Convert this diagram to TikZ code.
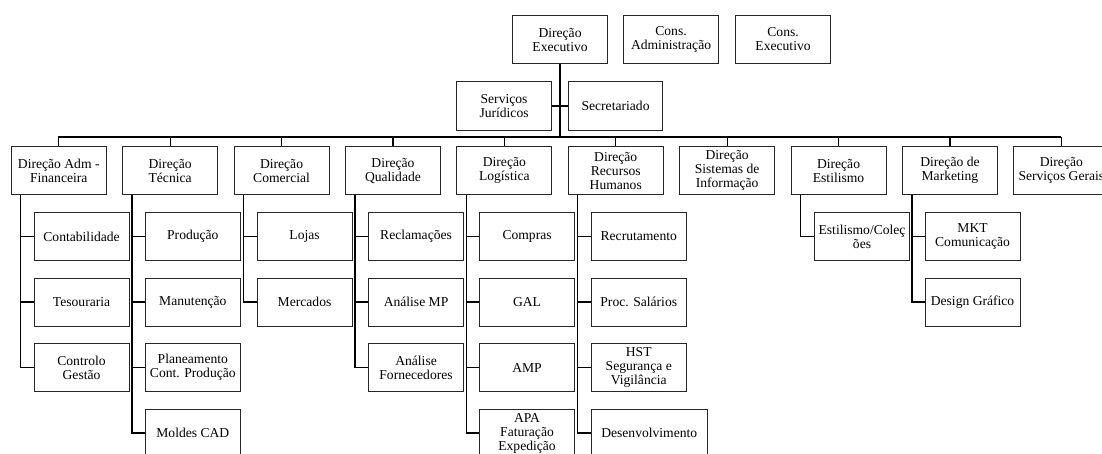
\documentclass[tikz,border=0pt]{standalone}
\usepackage{fontspec}
\setmainfont{Liberation Serif}
\usetikzlibrary{calc}
\begin{document}
\begin{tikzpicture}[x=1pt,y=-1pt,
  box/.style={draw=black!85,line width=1.1pt,fill=white,minimum width=95pt,minimum height=48pt,
    inner sep=1pt,align=center,anchor=north west,font=\fontsize{13.6}{14}\selectfont},
  link/.style={line width=1.5pt,black},
  trunk/.style={line width=2.6pt,black},
  thin/.style={line width=1.2pt,black}]
\useasboundingbox (0,0) rectangle (1102,454);
\clip (0,0) rectangle (1102,454);
% top
\node[box] (exec) at (512,15) {Direção\\Executivo};
\node[box] (cadm) at (623,15) {Cons.\\Administração};
\node[box] (cexe) at (735,15) {Cons.\\Executivo};
\node[box,minimum height=49pt] (sj) at (456,81) {Serviços\\Jurídicos};
\node[box,minimum height=49pt,minimum width=94pt] (sec) at (568,81) {Secretariado};
\coordinate (busL) at (58,137);
\coordinate (busR) at (1061,137);
\draw[link] (sj.east) -- (sec.west);
\draw[link] (busL) -- (busR);
\draw[trunk] (exec.south) -- (exec.south |- busL);
% departments
\node[box] (d1) at (10.7,146) {Direção Adm -\\Financeira};
\node[box] (d2) at (122.1,146) {Direção\\Técnica};
\node[box] (d3) at (233.5,146) {Direção\\Comercial};
\node[box] (d4) at (344.9,146) {Direção\\Qualidade};
\node[box] (d5) at (456.3,146) {Direção\\Logística};
\node[box] (d6) at (567.7,146) {Direção\\Recursos\\Humanos};
\node[box] (d7) at (679.1,146) {Direção\\Sistemas de\\Informação};
\node[box] (d8) at (790.5,146) {Direção\\Estilismo};
\node[box] (d9) at (901.9,146) {Direção de\\Marketing};
\node[box] (d10) at (1013.3,146) {Direção\\Serviços Gerais};
\foreach \d in {d1,d2,d3,d4,d5,d6,d7,d8,d9,d10}
  \draw[thin] (\d.north) -- (\d.north |- busL);
% sub boxes
\node[box] (c11) at (33.5,212) {Contabilidade};
\node[box] (c12) at (33.5,277.5) {Tesouraria};
\node[box] (c13) at (33.5,343) {Controlo\\Gestão};
\node[box] (c21) at (144.8,212) {Produção};
\node[box] (c22) at (144.8,277.5) {Manutenção};
\node[box] (c23) at (144.8,343) {Planeamento\\Cont. Produção};
\node[box] (c24) at (144.8,408.5) {Moldes CAD};
\node[box] (c31) at (256.5,212) {Lojas};
\node[box] (c32) at (256.5,277.5) {Mercados};
\node[box] (c41) at (368,212) {Reclamações};
\node[box] (c42) at (368,277.5) {Análise MP};
\node[box] (c43) at (368,343) {Análise\\Fornecedores};
\node[box] (c51) at (479,212) {Compras};
\node[box] (c52) at (479,277.5) {GAL};
\node[box] (c53) at (479,343) {AMP};
\node[box] (c54) at (479,408.5) {APA\\Faturação\\Expedição};
\node[box] (c61) at (590.7,212) {Recrutamento};
\node[box] (c62) at (590.7,277.5) {Proc. Salários};
\node[box] (c63) at (590.7,343) {HST\\Segurança e\\Vigilância};
\node[box,minimum width=116pt] (c64) at (590.7,408.5) {Desenvolvimento};
\node[box] (c81) at (814,212) {Estilismo/Coleç\\ões};
\node[box] (c91) at (924.5,212) {MKT\\Comunicação};
\node[box] (c92) at (924.5,277.5) {Design Gráfico};
% column connectors
\foreach \d/\last/\others in {d1/c13/{c11,c12}, d2/c24/{c21,c22,c23}, d3/c32/{c31},
    d4/c43/{c41,c42}, d5/c54/{c51,c52,c53}, d6/c64/{c61,c62,c63}, d9/c92/{c91}} {
  \coordinate (v) at ($(\d.south west)+(10,0)$);
  \draw[link,line join=miter] (v) |- (\last.west);
  \foreach \c in \others
    \draw[link] (\c.west) -- (\c.west -| v);
}
\coordinate (v8) at ($(d8.south west)+(10,0)$);
\draw[link,line join=miter] (v8) |- (c81.west);
\end{tikzpicture}
\end{document}
